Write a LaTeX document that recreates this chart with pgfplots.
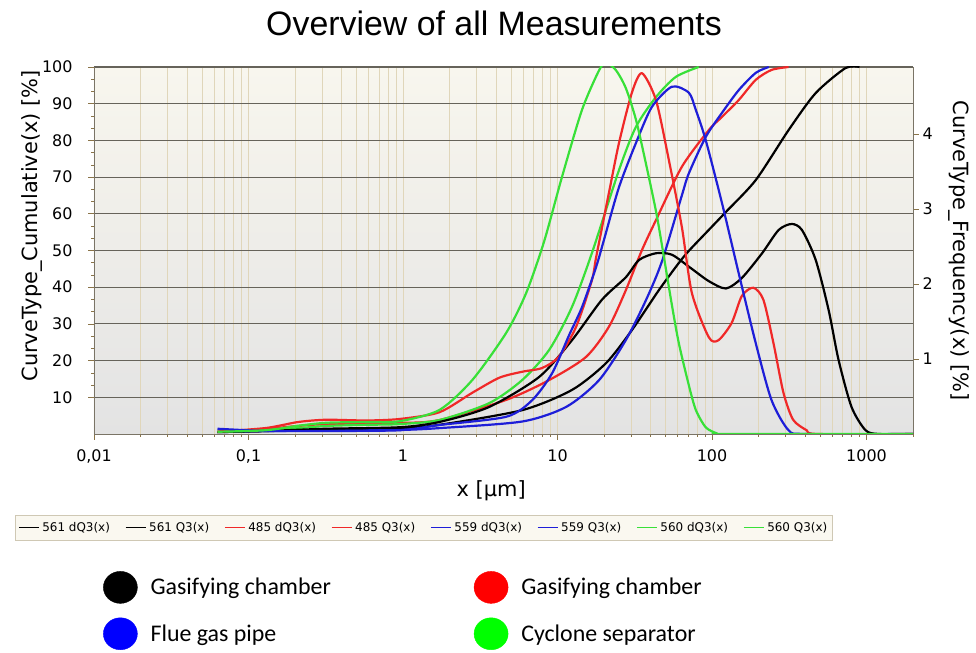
\documentclass[border=0pt]{standalone}
\usepackage{fontspec}
\setmainfont{DejaVu Sans}
\newfontfamily\titlefont{Liberation Sans}
\newfontfamily\calfont{Carlito}
\usepackage{pgfplots}
\pgfplotsset{compat=1.18}

\definecolor{cBlack}{HTML}{000000}
\definecolor{cRed}{HTML}{F02828}
\definecolor{cBlue}{HTML}{1E1ED8}
\definecolor{cGreen}{HTML}{38E038}
\definecolor{bgTop}{HTML}{F8F6EE}
\definecolor{bgBot}{HTML}{E3E3E3}
\definecolor{vgrid}{HTML}{E0D6BA}
\definecolor{hgrid}{HTML}{66635A}
\definecolor{axcol}{HTML}{7A7466}
\definecolor{tickcol}{HTML}{8A7448}
\definecolor{legfill}{HTML}{FAF8F0}
\definecolor{legdraw}{HTML}{CFC8B4}

\pgfplotsset{
  myframe/.style={
    at={(94bp,219bp)}, anchor=south west, scale only axis,
    width=819bp, height=367bp,
    xmin=0.01, xmax=2000,
    tick align=outside,
    major tick length=6bp, minor tick length=3bp,
    tick style={draw=tickcol, line width=0.6bp},
    axis line style={draw=axcol, line width=0.8bp},
    tick label style={font=\fontsize{16}{18}\selectfont},
    label style={font=\fontsize{21}{24}\selectfont},
    /pgf/number format/assume math mode=true,
  },
  curve/.style={line width=2.2bp, smooth, tension=0.45},
  legline/.style={legend image code/.code={\draw[#1, line width=1.2bp] (0bp,0bp) -- (20bp,0bp);}},
}

\begin{document}
\begin{tikzpicture}[x=1bp,y=1bp]
\path[use as bounding box] (0,0) rectangle (976,653);
\node[font=\titlefont\fontsize{34}{40}\selectfont] at (494,630) {Overview of all Measurements};

% cumulative curves, left axis
\begin{axis}[xmode=log, myframe,
  ymin=0, ymax=100,
  axis x line*=bottom, axis y line*=left,
  axis background/.style={top color=bgTop, bottom color=bgBot},
  xtick={0.01,0.1,1,10,100,1000},
  xticklabels={0{,}01,0{,}1,1,10,100,1000},
  minor xtick={0.02,0.03,0.04,0.05,0.06,0.07,0.08,0.09,
               0.2,0.3,0.4,0.5,0.6,0.7,0.8,0.9,
               2,3,4,5,6,7,8,9,20,30,40,50,60,70,80,90,
               200,300,400,500,600,700,800,900,2000},
  ytick={10,20,30,40,50,60,70,80,90,100},
  minor y tick num=2,
  xticklabel style={yshift=-6bp},
  yticklabel style={xshift=-12bp},
  xmajorgrids, xminorgrids, ymajorgrids,
  major x grid style={draw=vgrid, line width=0.7bp},
  minor x grid style={draw=vgrid, line width=0.7bp},
  major y grid style={draw=hgrid, line width=1.1bp},
  xlabel={x [µm]},
  ylabel={CurveType\_Cumulative(x) [\%]},
  xlabel style={at={(axis description cs:0.485,-0.155)}, anchor=center},
  ylabel style={at={(axis description cs:-0.076,0.567)}, anchor=center},
]
% 561 Q3
\addplot[curve, cBlack] coordinates {
 (0.063,0.5) (0.13,0.8) (0.32,1.1) (0.95,1.6) (1.72,2.5) (5.91,6.5)
 (12.4,12.0) (20.6,19.3) (30.3,28.3) (45.3,39.2) (61,46.6) (70.8,49.9)
 (95.3,55.6) (123,60.5) (192,69.2) (313,82.8) (469,92.9) (731,99.7)
 (900,100)
};
% 485 Q3
\addplot[curve, cRed] coordinates {
 (0.063,0.5) (0.13,1.4) (0.21,2.2) (0.32,2.7) (0.95,3.0) (1.72,3.8)
 (4.66,9.3) (8.83,14.7) (15.3,21.0) (21.5,29.2) (27.7,39.2) (35.2,50.1)
 (43.4,58.3) (63.8,72.8) (95.3,82.8) (116,86.4) (149,91.0) (192,96.5)
 (243,99.2) (313,100)
};
% 559 Q3
\addplot[curve, cBlue] coordinates {
 (0.063,0.5) (0.13,0.8) (0.32,0.9) (0.95,1.1) (1.72,1.6) (5.91,3.4)
 (11.4,7.4) (18.6,14.7) (27.7,25.6) (37.4,36.5) (47.4,47) (63.8,65)
 (70.8,71) (91,80.9) (116,87.5) (149,93.7) (192,98.4) (233,100)
};
% 560 Q3
\addplot[curve, cGreen] coordinates {
 (0.063,0.5) (0.13,1.1) (0.21,1.6) (0.32,2.2) (0.58,2.5) (0.95,2.7)
 (1.72,3.8) (3.61,8.4) (5.91,14.7) (8.83,22.9) (12.4,34.6) (16.7,49.3)
 (25,71.9) (32.2,83.7) (43.4,91.8) (58.3,97.3) (82,100)
};
\end{axis}

% frequency curves, right axis
\begin{axis}[xmode=log, myframe,
  ymin=0, ymax=4.893,
  axis y line*=right, axis x line=none,
  ytick={1,2,3,4},
  ylabel={CurveType\_Frequency(x) [\%]},
  ylabel style={at={(axis description cs:1.056,0.5)}, anchor=center, rotate=180},
  legend columns=8,
  legend cell align=left,
  legend style={at={(axis description cs:-0.0965,-0.2207)}, anchor=north west,
    draw=legdraw, fill=legfill, font=\fontsize{12}{14}\selectfont,
    inner xsep=3bp, inner ysep=5bp,
    /tikz/every even column/.append style={column sep=13bp},
    /tikz/every odd column/.append style={column sep=1bp}},
]
\addlegendimage{legline=cBlack}\addlegendentry{561 dQ3(x)}
\addlegendimage{legline=cBlack}\addlegendentry{561 Q3(x)}
\addlegendimage{legline=cRed}\addlegendentry{485 dQ3(x)}
\addlegendimage{legline=cRed}\addlegendentry{485 Q3(x)}
\addlegendimage{legline=cBlue}\addlegendentry{559 dQ3(x)}
\addlegendimage{legline=cBlue}\addlegendentry{559 Q3(x)}
\addlegendimage{legline=cGreen}\addlegendentry{560 dQ3(x)}
\addlegendimage{legline=cGreen}\addlegendentry{560 Q3(x)}
% 561 dQ3
\addplot[curve, cBlack, forget plot] coordinates {
 (0.063,0.03) (0.13,0.04) (0.32,0.07) (0.95,0.09) (1.72,0.16) (3.61,0.36)
 (7.6,0.76) (12.4,1.25) (19.4,1.79) (27.7,2.09) (33.7,2.32) (43.4,2.41)
 (55,2.39) (72,2.22) (95,2.04) (123,1.94) (156,2.08) (211,2.41)
 (270,2.72) (328,2.8) (382,2.72) (469,2.32) (569,1.65) (659,0.99)
 (800,0.36) (986,0.05) (1200,0) (2000,0)
};
% 485 dQ3
\addplot[curve, cRed, forget plot] coordinates {
 (0.063,0.03) (0.13,0.08) (0.21,0.16) (0.32,0.19) (0.58,0.18) (0.95,0.2)
 (1.72,0.29) (2.81,0.55) (4.2,0.75) (5.91,0.83) (7.95,0.88) (10.2,1.03)
 (13.2,1.43) (16.7,2.05) (17.8,2.36) (21.5,3.21) (25,3.88) (30.3,4.55)
 (35.2,4.81) (43.4,4.45) (52.6,3.65) (63.8,2.76) (74.1,1.88) (95.3,1.29)
 (110,1.25) (134,1.48) (156,1.84) (185,1.95) (215,1.79) (250,1.21)
 (290,0.55) (335,0.19) (410,0.05) (480,0) (2000,0)
};
% 559 dQ3
\addplot[curve, cBlue, forget plot] coordinates {
 (0.063,0.07) (0.13,0.04) (0.32,0.04) (0.95,0.05) (1.72,0.12) (4.66,0.23)
 (6.85,0.45) (9.23,0.81) (11.9,1.32) (14.4,1.69) (17.8,2.23) (20,2.59)
 (25,3.29) (32.2,3.88) (40.8,4.36) (55,4.63) (70.8,4.55) (78.6,4.32)
 (91,3.92) (116,3.08) (149,2.14) (192,1.21) (243,0.45) (313,0.05)
 (404,0) (2000,0)
};
% 560 dQ3
\addplot[curve, cGreen, forget plot] coordinates {
 (0.063,0.03) (0.13,0.05) (0.21,0.11) (0.32,0.15) (0.58,0.16) (0.95,0.17)
 (1.72,0.32) (2.81,0.72) (4.66,1.35) (6.27,1.88) (8.2,2.57)
 (10.7,3.43) (14.4,4.32) (18.6,4.85) (20.6,4.95) (23.9,4.85) (27.7,4.61)
 (32.2,4.19) (37.4,3.6) (43.4,2.97) (47.4,2.52) (55,1.72) (61,1.21)
 (70.8,0.65) (78.6,0.32) (91,0.09) (107,0.01) (120,0) (2000,0)
};
\end{axis}

% sample legend below the chart
\begin{axis}[at={(0bp,0bp)}, anchor=south west, scale only axis,
  width=976bp, height=653bp, hide axis,
  xmin=0, xmax=1, ymin=0, ymax=1,
  legend image code/.code={\fill[#1] (17bp,0bp) ellipse [x radius=17bp, y radius=16bp];},
  legend columns=2,
  legend cell align=left,
  legend style={at={(axis description cs:0.1055,0.1256)}, anchor=north west,
    draw=none, fill=none, inner sep=0bp,
    font=\calfont\fontsize{24}{27}\selectfont,
    row sep=14bp,
    /tikz/every even column/.append style={column sep=141bp},
    /tikz/every odd column/.append style={column sep=11bp}},
]
\addlegendimage{black}\addlegendentry{Gasifying chamber}
\addlegendimage{red}\addlegendentry{Gasifying chamber}
\addlegendimage{blue}\addlegendentry{Flue gas pipe}
\addlegendimage{green}\addlegendentry{Cyclone separator}
\end{axis}
\end{tikzpicture}
\end{document}
